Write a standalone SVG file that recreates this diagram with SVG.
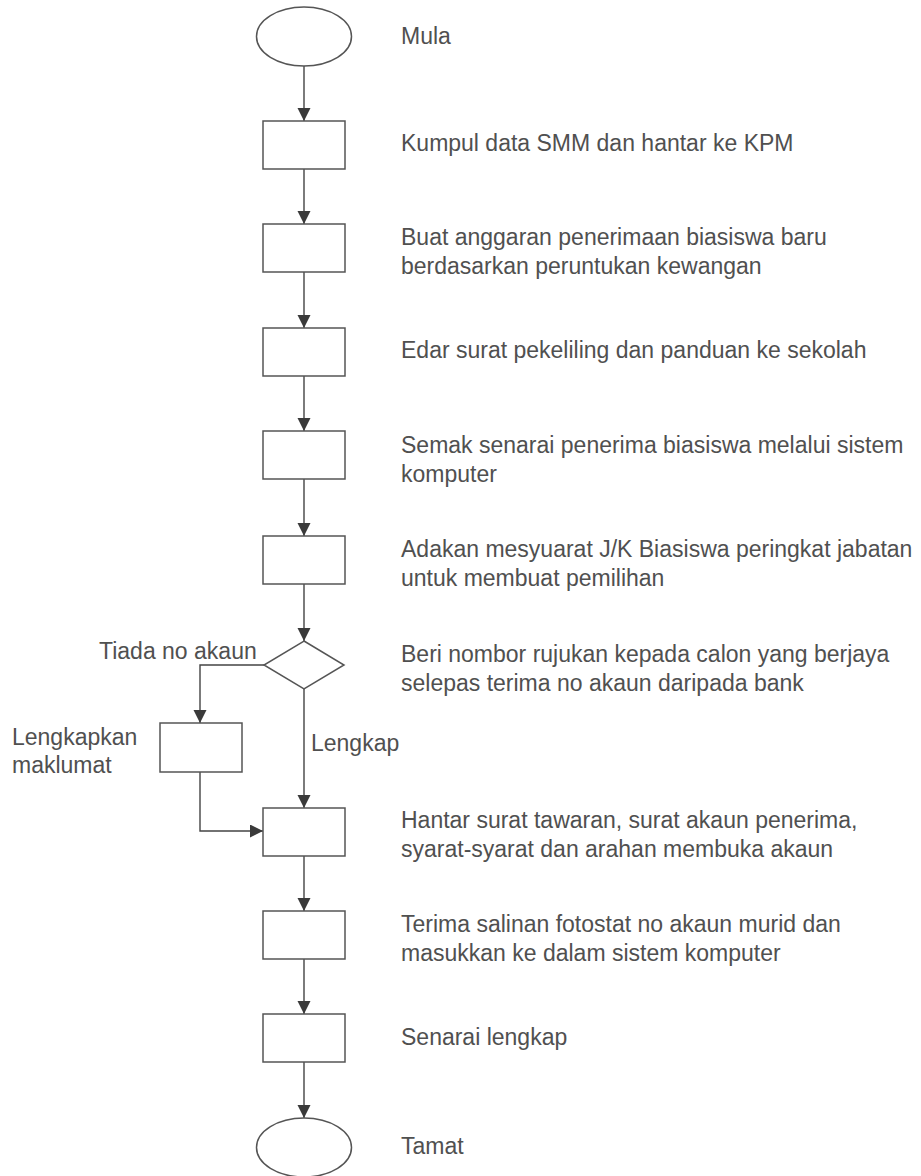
<svg xmlns="http://www.w3.org/2000/svg" width="921" height="1176" viewBox="0 0 921 1176">
<style>
.shape{fill:#fff;stroke:#555;stroke-width:1.5}
.conn{fill:none;stroke:#444;stroke-width:1.4}
.t{font-family:"Liberation Sans",Arial,sans-serif;font-size:23px;fill:#505050}
</style>
<defs>
<marker id="arr" markerUnits="userSpaceOnUse" markerWidth="14" markerHeight="14" refX="13" refY="6.5" orient="auto">
<path d="M0,0 L13,6.5 L0,13 Z" fill="#3a3a3a"/>
</marker>
</defs>
<rect width="921" height="1176" fill="#fff"/>
<g id="connectors">
<line class="conn" x1="304" y1="66" x2="304" y2="121" marker-end="url(#arr)"/>
<line class="conn" x1="304" y1="169" x2="304" y2="224" marker-end="url(#arr)"/>
<line class="conn" x1="304" y1="272" x2="304" y2="328" marker-end="url(#arr)"/>
<line class="conn" x1="304" y1="376" x2="304" y2="431" marker-end="url(#arr)"/>
<line class="conn" x1="304" y1="479" x2="304" y2="536" marker-end="url(#arr)"/>
<line class="conn" x1="304" y1="584" x2="304" y2="641" marker-end="url(#arr)"/>
<line class="conn" x1="304" y1="689" x2="304" y2="808" marker-end="url(#arr)"/>
<polyline class="conn" points="264,665 200,665 200,723" marker-end="url(#arr)"/>
<polyline class="conn" points="200,772 200,831 263,831" marker-end="url(#arr)"/>
<line class="conn" x1="304" y1="856" x2="304" y2="911" marker-end="url(#arr)"/>
<line class="conn" x1="304" y1="959" x2="304" y2="1014" marker-end="url(#arr)"/>
<line class="conn" x1="304" y1="1062" x2="304" y2="1118" marker-end="url(#arr)"/>
<text class="t" x="99" y="659">Tiada no akaun</text>
<text class="t" x="311" y="751">Lengkap</text>
</g>
<g id="mula">
<ellipse class="shape" cx="304" cy="36.5" rx="47.5" ry="29.5"/>
<text class="t" x="401" y="44">Mula</text>
</g>
<g id="kumpul">
<rect class="shape" x="263" y="121" width="82" height="48"/>
<text class="t" x="401" y="151">Kumpul data SMM dan hantar ke KPM</text>
</g>
<g id="anggaran">
<rect class="shape" x="263" y="224" width="82" height="48"/>
<text class="t" x="401" y="245">Buat anggaran penerimaan biasiswa baru</text>
<text class="t" x="401" y="274">berdasarkan peruntukan kewangan</text>
</g>
<g id="edar">
<rect class="shape" x="263" y="328" width="82" height="48"/>
<text class="t" x="401" y="358">Edar surat pekeliling dan panduan ke sekolah</text>
</g>
<g id="semak">
<rect class="shape" x="263" y="431" width="82" height="48"/>
<text class="t" x="401" y="453">Semak senarai penerima biasiswa melalui sistem</text>
<text class="t" x="401" y="482">komputer</text>
</g>
<g id="mesyuarat">
<rect class="shape" x="263" y="536" width="82" height="48"/>
<text class="t" x="401" y="557">Adakan mesyuarat J/K Biasiswa peringkat jabatan</text>
<text class="t" x="401" y="586">untuk membuat pemilihan</text>
</g>
<g id="keputusan">
<polygon class="shape" points="304,641 344,665 304,689 264,665"/>
<text class="t" x="401" y="662">Beri nombor rujukan kepada calon yang berjaya</text>
<text class="t" x="401" y="691">selepas terima no akaun daripada bank</text>
</g>
<g id="lengkapkan">
<rect class="shape" x="160" y="723" width="82" height="49"/>
<text class="t" x="12" y="745">Lengkapkan</text>
<text class="t" x="12" y="773">maklumat</text>
</g>
<g id="hantar">
<rect class="shape" x="263" y="808" width="82" height="48"/>
<text class="t" x="401" y="828">Hantar surat tawaran, surat akaun penerima,</text>
<text class="t" x="401" y="857">syarat-syarat dan arahan membuka akaun</text>
</g>
<g id="terima">
<rect class="shape" x="263" y="911" width="82" height="48"/>
<text class="t" x="401" y="932">Terima salinan fotostat no akaun murid dan</text>
<text class="t" x="401" y="961">masukkan ke dalam sistem komputer</text>
</g>
<g id="senarai">
<rect class="shape" x="263" y="1014" width="82" height="48"/>
<text class="t" x="401" y="1045">Senarai lengkap</text>
</g>
<g id="tamat">
<ellipse class="shape" cx="304" cy="1147.5" rx="47.5" ry="29.5"/>
<text class="t" x="401" y="1154">Tamat</text>
</g>
</svg>
